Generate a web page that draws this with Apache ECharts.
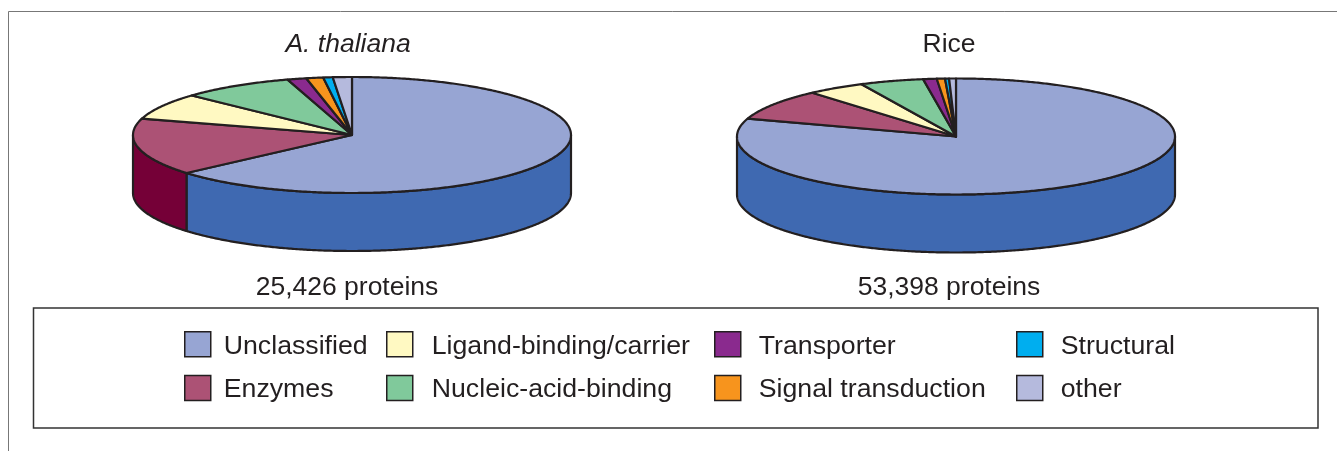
<!DOCTYPE html>
<html>
<head>
<meta charset="utf-8">
<title>Protein classes</title>
<script src="https://cdn.jsdelivr.net/npm/echarts@6/dist/echarts.min.js"></script>
<style>
    html, body { margin: 0; padding: 0; background: #fff; }
    #chart-container { width: 1337px; height: 451px; }
</style>
</head>
<body>
<div id="chart-container"></div>
<script>
const categories = ['Unclassified', 'Enzymes', 'Ligand-binding/carrier', 'Nucleic-acid-binding',
    'Transporter', 'Signal transduction', 'Structural', 'other'];
// percent of proteins
const thalianaValues = [63.6, 15.9, 7.4, 8.3, 1.4, 1.25, 0.7, 1.4];
const riceValues = [80.0, 8.6, 4.3, 4.7, 1.0, 0.6, 0.3, 0.5];
const topColors = ['#97a5d3', '#ac5275', '#fff9c2', '#80c99b', '#8a2a8e', '#f7941d', '#00aeef', '#b5badd'];
const wallColors = ['#3f69b1', '#750037', '#c9c28a', '#4f9a6c', '#5c1a60', '#b86a10', '#0080b0', '#8489ad'];
const legendColumns = [[0, 1], [2, 3], [4, 5], [6, 7]];
const legendLefts = [184, 386, 714, 1016];
const legendTextGaps = [8, 14, 13, 13];

const ink = '#231f20';
const fontFamily = '"Liberation Sans", Arial, sans-serif';
const pieRx = 219, pieRy = 58, pieDepth = 58;

// points along the top ellipse, clockwise from 12 o'clock, angles in degrees
function arcPoints(cx, cy, from, to) {
    const pts = [];
    const steps = Math.max(2, Math.ceil((to - from) * 2));
    for (let i = 0; i <= steps; i++) {
        const t = (from + (to - from) * i / steps) * Math.PI / 180;
        pts.push([cx + pieRx * Math.sin(t), cy - pieRy * Math.cos(t)]);
    }
    return pts;
}

function pieSeries(name, values, cx, cy) {
    const total = values.reduce((a, b) => a + b, 0);
    return {
        type: 'custom',
        name: name,
        coordinateSystem: 'none',
        silent: true,
        data: categories.map((c, i) => [c, values[i]]),
        renderItem: function (params, api) {
            const i = params.dataIndex;
            let before = 0;
            for (let k = 0; k < i; k++) before += values[k];
            const from = before / total * 360;
            const to = (before + api.value(1)) / total * 360;
            const children = [];

            // side wall is only seen on the front half of the disc
            const wallFrom = Math.max(from, 90), wallTo = Math.min(to, 270);
            if (wallTo > wallFrom) {
                const upper = arcPoints(cx, cy, wallFrom, wallTo);
                const lower = upper.map(p => [p[0], p[1] + pieDepth]).reverse();
                children.push({
                    type: 'polygon',
                    z2: 1,
                    shape: { points: upper.concat(lower) },
                    style: { fill: wallColors[i], stroke: ink, lineWidth: 2.2, lineJoin: 'round' }
                });
            }
            children.push({
                type: 'polygon',
                z2: 2,
                shape: { points: [[cx, cy]].concat(arcPoints(cx, cy, from, to)) },
                style: { fill: topColors[i], stroke: ink, lineWidth: 2.2, lineJoin: 'round' }
            });
            return { type: 'group', children: children };
        }
    };
}

// empty series, they only feed the legend
const legendSeries = categories.map((c, i) => ({
    type: 'custom',
    name: c,
    coordinateSystem: 'none',
    data: [],
    itemStyle: { color: topColors[i] },
    renderItem: function () { return null; }
}));

function titleAt(text, x, y, style) {
    return {
        text: text,
        left: x,
        top: y,
        textAlign: 'center',
        padding: 0,
        textStyle: Object.assign({
            fontFamily: fontFamily, fontSize: 26.5, fontWeight: 'normal', color: ink
        }, style || {})
    };
}

const myChart = echarts.init(document.getElementById('chart-container'), null, { renderer: 'canvas' });

myChart.setOption({
    animation: false,
    backgroundColor: '#fff',
    title: [
        titleAt('A. thaliana', 348, 31, { fontStyle: 'italic' }),
        titleAt('Rice', 949, 31),
        titleAt('25,426 proteins', 347, 274),
        titleAt('53,398 proteins', 949, 274)
    ],
    legend: legendColumns.map((col, k) => ({
        orient: 'vertical',
        left: legendLefts[k],
        top: 331,
        padding: 0,
        icon: 'rect',
        itemWidth: 26,
        itemHeight: 25,
        itemGap: 15,
        selectedMode: false,
        data: col.map(i => categories[i]),
        itemStyle: { borderColor: ink, borderWidth: 1.5 },
        formatter: '{t|{name}}',
        textStyle: {
            fontFamily: fontFamily, fontSize: 26.7, color: ink,
            padding: [0, 0, 0, legendTextGaps[k]],
            rich: {
                // pushes the label down a little against its swatch
                t: { fontFamily: fontFamily, fontSize: 26.7, color: ink, padding: [4, 0, 0, 0] }
            }
        }
    })),
    graphic: [
        {
            type: 'polyline',
            silent: true,
            shape: { points: [[8.5, 451], [8.5, 11.5], [1337, 11.5]] },
            style: { fill: null, stroke: '#777', lineWidth: 1 }
        },
        {
            type: 'rect',
            silent: true,
            shape: { x: 33.5, y: 308, width: 1284.5, height: 120 },
            style: { fill: null, stroke: '#333', lineWidth: 1.5 }
        }
    ],
    series: [
        pieSeries('A. thaliana', thalianaValues, 352, 135),
        pieSeries('Rice', riceValues, 956, 136.5)
    ].concat(legendSeries)
});
</script>
</body>
</html>
